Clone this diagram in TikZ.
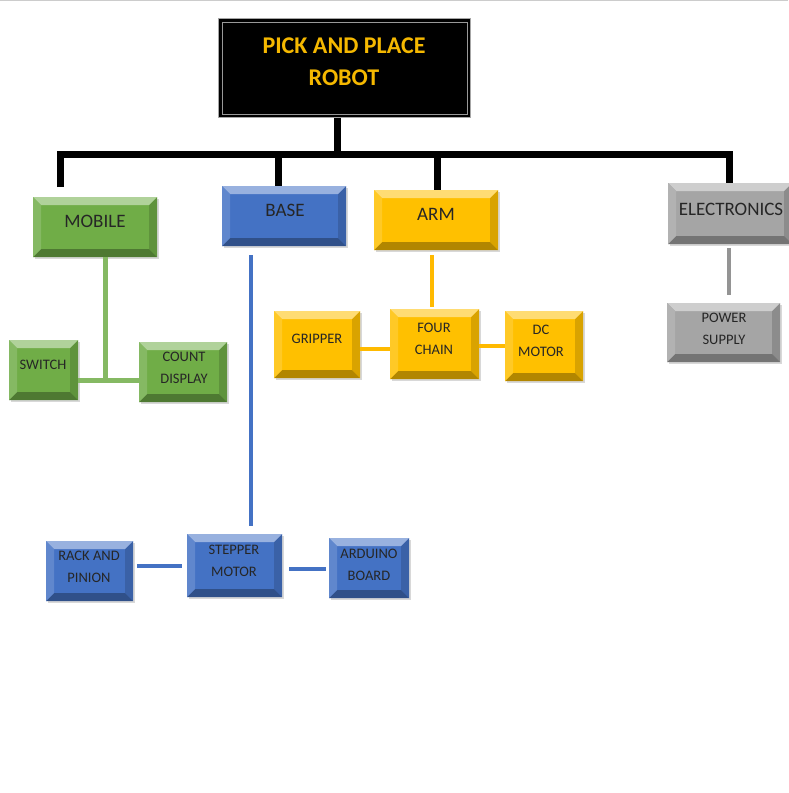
\documentclass[tikz,border=0pt]{standalone}
\usepackage{fontspec}
\setmainfont{Carlito}
\usetikzlibrary{shadows}
\definecolor{cgreen}{HTML}{70AD47}
\definecolor{cblue}{HTML}{4472C4}
\definecolor{cyellow}{HTML}{FFC000}
\definecolor{cgray}{HTML}{A5A5A5}
\definecolor{ctitle}{HTML}{F5B800}
\definecolor{ctext}{HTML}{262626}
\tikzset{
  bevelbox/.style={draw=none, fill=#1, inner sep=0pt, anchor=north west,
    drop shadow={shadow xshift=1.5pt, shadow yshift=-1.5pt, opacity=0.3},
    path picture={
      \fill[#1!55!white] (path picture bounding box.north west) -- (path picture bounding box.north east)
        -- ([xshift=-8pt,yshift=-8pt]path picture bounding box.north east) -- ([xshift=8pt,yshift=-8pt]path picture bounding box.north west) -- cycle;
      \fill[#1!85!white] (path picture bounding box.north west) -- (path picture bounding box.south west)
        -- ([xshift=8pt,yshift=8pt]path picture bounding box.south west) -- ([xshift=8pt,yshift=-8pt]path picture bounding box.north west) -- cycle;
      \fill[#1!85!black] (path picture bounding box.north east) -- (path picture bounding box.south east)
        -- ([xshift=-8pt,yshift=8pt]path picture bounding box.south east) -- ([xshift=-8pt,yshift=-8pt]path picture bounding box.north east) -- cycle;
      \fill[#1!70!black] (path picture bounding box.south west) -- (path picture bounding box.south east)
        -- ([xshift=-8pt,yshift=8pt]path picture bounding box.south east) -- ([xshift=8pt,yshift=8pt]path picture bounding box.south west) -- cycle;
    }},
  biglbl/.style={text=ctext, font=\fontsize{19}{22}\selectfont, align=center, inner sep=0pt},
  smalllbl/.style={text=ctext, font=\fontsize{14.5}{22}\selectfont, align=center, inner sep=0pt},
  bk/.style={line width=7pt, black, line join=miter},
  gconn/.style={line width=5pt, cgreen!85!white},
  bconn/.style={line width=4pt, cblue},
  yconn/.style={line width=4pt, cyellow!90!orange},
  grconn/.style={line width=4pt, cgray!90!black},
}
\newcommand{\bx}[6]{\node[bevelbox=#6, minimum width=#4pt, minimum height=#5pt] (#1) at (#2,#3) {};}
\begin{document}
\begin{tikzpicture}[x=1pt,y=-1pt]
\useasboundingbox[fill=white] (0,0) rectangle (788,793);
\draw[gray!40, line width=1pt] (0,0.5) -- (788,0.5);
% title
\node[fill=black, draw=gray!70, line width=1pt, minimum width=252pt, minimum height=99pt, anchor=north west, inner sep=0pt] (title) at (218,18) {};
\draw[gray!80, line width=0.8pt] ([shift={(4pt,-4pt)}]title.north west) rectangle ([shift={(-4pt,4pt)}]title.south east);
\node[text=ctitle, font=\bfseries\fontsize{24}{32}\selectfont, align=center, inner sep=0pt] (ttitle) at (344,62) {PICK AND PLACE\\ROBOT};
% boxes
\bx{mobile}{33}{197}{124}{60}{cgreen}
\bx{base}{222}{186}{124}{60}{cblue}
\bx{arm}{374}{190}{124}{60}{cyellow}
\bx{elec}{668}{183}{124}{61}{cgray}
\bx{switch}{9}{340}{69}{60}{cgreen}
\bx{count}{139}{342}{88}{60}{cgreen}
\bx{gripper}{274}{311}{86}{67}{cyellow}
\bx{four}{390}{309}{89}{70}{cyellow}
\bx{dc}{505}{311}{78}{70}{cyellow}
\bx{power}{667}{303}{113}{59}{cgray}
\bx{rack}{46}{541}{87}{60}{cblue}
\bx{stepper}{187}{534}{95}{63}{cblue}
\bx{arduino}{329}{538}{80}{60}{cblue}
% labels
\node[biglbl] (tmobile) at (95,221) {MOBILE};
\node[biglbl] (tbase) at (285,210) {BASE};
\node[biglbl] (tarm) at (436,214) {ARM};
\node[biglbl] (telec) at (731,209) {ELECTRONICS};
\node[smalllbl] (tswitch) at (43,365) {SWITCH};
\node[smalllbl] (tcount) at (184,368) {COUNT\\DISPLAY};
\node[smalllbl] (tgripper) at (317,339) {GRIPPER};
\node[smalllbl] (tfour) at (434,339) {FOUR\\CHAIN};
\node[smalllbl] (tdc) at (541,341) {DC\\MOTOR};
\node[smalllbl] (tpower) at (724,329) {POWER\\SUPPLY};
\node[smalllbl] (track) at (89,567) {RACK AND\\PINION};
\node[smalllbl] (tstepper) at (234,561) {STEPPER\\MOTOR};
\node[smalllbl] (tarduino) at (369,565) {ARDUINO\\BOARD};
% black tree
\coordinate (t0) at (337,154);
\coordinate (d1) at (60.5,154);
\coordinate (d2) at (278,154);
\coordinate (d3) at (437,154);
\coordinate (d4) at (729.5,154);
\draw[bk] (title.south -| t0) -- (t0);
\draw[bk] ([yshift=10pt]mobile.north -| d1) -- (d1) -- (d4) -- (elec.north -| d4);
\draw[bk] (d2) -- (base.north -| d2);
\draw[bk] (d3) -- (arm.north -| d3);
% green
\coordinate (gv) at (105.5,380);
\draw[gconn] (mobile.south -| gv) -- (gv);
\draw[gconn] (switch.east |- gv) -- (count.west |- gv);
% blue
\coordinate (bv) at (251,400);
\coordinate (bh1) at (160,566);
\coordinate (bh2) at (300,569);
\draw[bconn] ([yshift=-9pt]base.south -| bv) -- ([yshift=8pt]stepper.north -| bv);
\draw[bconn] ([xshift=4pt]rack.east |- bh1) -- ([xshift=-5pt]stepper.west |- bh1);
\draw[bconn] ([xshift=7pt]stepper.east |- bh2) -- ([xshift=-3pt]arduino.west |- bh2);
% yellow
\coordinate (yv) at (432,280);
\coordinate (yh1) at (375,349);
\coordinate (yh2) at (490,346);
\draw[yconn] ([yshift=-5pt]arm.south -| yv) -- ([yshift=2pt]four.north -| yv);
\draw[yconn] (gripper.east |- yh1) -- (four.west |- yh1);
\draw[yconn] (four.east |- yh2) -- (dc.west |- yh2);
% gray
\coordinate (gr) at (729,270);
\draw[grconn] ([yshift=-4pt]elec.south -| gr) -- ([yshift=8pt]power.north -| gr);
\end{tikzpicture}
\end{document}
